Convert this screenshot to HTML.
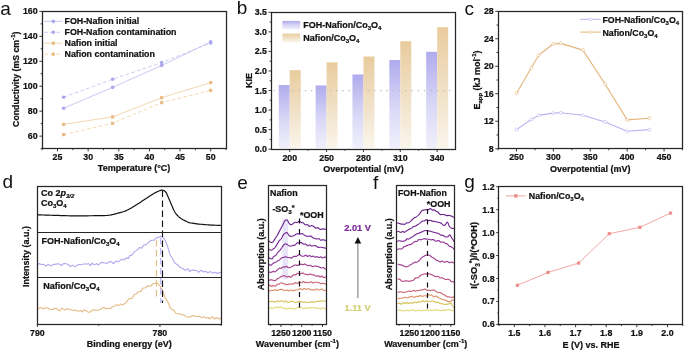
<!DOCTYPE html>
<html><head><meta charset="utf-8"><style>
html,body{margin:0;padding:0;background:#fff;width:685px;height:351px;overflow:hidden}
svg{display:block;will-change:transform}
text{font-family:"Liberation Sans", sans-serif}
text[font-weight=bold]{stroke:currentColor;stroke-width:0.22px}
</style></head><body>
<svg width="685" height="351" viewBox="0 0 685 351">
<rect width="685" height="351" fill="#fff"/>
<rect x="42.50" y="11.50" width="184.00" height="137.00" fill="none" stroke="#262626" stroke-width="1.25"/>
<line x1="40.60" y1="148.60" x2="42.20" y2="148.60" stroke="#262626" stroke-width="0.9" />
<line x1="39.40" y1="136.13" x2="42.20" y2="136.13" stroke="#262626" stroke-width="0.9" />
<text x="37.60" y="139.13" font-size="8.8" text-anchor="end" font-weight="bold" fill="#111" color="#111" >60</text>
<line x1="40.60" y1="123.65" x2="42.20" y2="123.65" stroke="#262626" stroke-width="0.9" />
<line x1="39.40" y1="111.18" x2="42.20" y2="111.18" stroke="#262626" stroke-width="0.9" />
<text x="37.60" y="114.18" font-size="8.8" text-anchor="end" font-weight="bold" fill="#111" color="#111" >80</text>
<line x1="40.60" y1="98.71" x2="42.20" y2="98.71" stroke="#262626" stroke-width="0.9" />
<line x1="39.40" y1="86.24" x2="42.20" y2="86.24" stroke="#262626" stroke-width="0.9" />
<text x="37.60" y="89.24" font-size="8.8" text-anchor="end" font-weight="bold" fill="#111" color="#111" >100</text>
<line x1="40.60" y1="73.76" x2="42.20" y2="73.76" stroke="#262626" stroke-width="0.9" />
<line x1="39.40" y1="61.29" x2="42.20" y2="61.29" stroke="#262626" stroke-width="0.9" />
<text x="37.60" y="64.29" font-size="8.8" text-anchor="end" font-weight="bold" fill="#111" color="#111" >120</text>
<line x1="40.60" y1="48.82" x2="42.20" y2="48.82" stroke="#262626" stroke-width="0.9" />
<line x1="39.40" y1="36.35" x2="42.20" y2="36.35" stroke="#262626" stroke-width="0.9" />
<text x="37.60" y="39.35" font-size="8.8" text-anchor="end" font-weight="bold" fill="#111" color="#111" >140</text>
<line x1="40.60" y1="23.87" x2="42.20" y2="23.87" stroke="#262626" stroke-width="0.9" />
<line x1="39.40" y1="11.40" x2="42.20" y2="11.40" stroke="#262626" stroke-width="0.9" />
<text x="37.60" y="14.40" font-size="8.8" text-anchor="end" font-weight="bold" fill="#111" color="#111" >160</text>
<line x1="42.20" y1="148.60" x2="42.20" y2="150.20" stroke="#262626" stroke-width="0.9" />
<line x1="57.52" y1="148.60" x2="57.52" y2="151.40" stroke="#262626" stroke-width="0.9" />
<text x="57.52" y="160.20" font-size="8.8" text-anchor="middle" font-weight="bold" fill="#111" color="#111" >25</text>
<line x1="72.83" y1="148.60" x2="72.83" y2="150.20" stroke="#262626" stroke-width="0.9" />
<line x1="88.15" y1="148.60" x2="88.15" y2="151.40" stroke="#262626" stroke-width="0.9" />
<text x="88.15" y="160.20" font-size="8.8" text-anchor="middle" font-weight="bold" fill="#111" color="#111" >30</text>
<line x1="103.47" y1="148.60" x2="103.47" y2="150.20" stroke="#262626" stroke-width="0.9" />
<line x1="118.78" y1="148.60" x2="118.78" y2="151.40" stroke="#262626" stroke-width="0.9" />
<text x="118.78" y="160.20" font-size="8.8" text-anchor="middle" font-weight="bold" fill="#111" color="#111" >35</text>
<line x1="134.10" y1="148.60" x2="134.10" y2="150.20" stroke="#262626" stroke-width="0.9" />
<line x1="149.42" y1="148.60" x2="149.42" y2="151.40" stroke="#262626" stroke-width="0.9" />
<text x="149.42" y="160.20" font-size="8.8" text-anchor="middle" font-weight="bold" fill="#111" color="#111" >40</text>
<line x1="164.73" y1="148.60" x2="164.73" y2="150.20" stroke="#262626" stroke-width="0.9" />
<line x1="180.05" y1="148.60" x2="180.05" y2="151.40" stroke="#262626" stroke-width="0.9" />
<text x="180.05" y="160.20" font-size="8.8" text-anchor="middle" font-weight="bold" fill="#111" color="#111" >45</text>
<line x1="195.37" y1="148.60" x2="195.37" y2="150.20" stroke="#262626" stroke-width="0.9" />
<line x1="210.68" y1="148.60" x2="210.68" y2="151.40" stroke="#262626" stroke-width="0.9" />
<text x="210.68" y="160.20" font-size="8.8" text-anchor="middle" font-weight="bold" fill="#111" color="#111" >50</text>
<line x1="226.00" y1="148.60" x2="226.00" y2="150.20" stroke="#262626" stroke-width="0.9" />
<text x="134.10" y="171.00" font-size="9.0" text-anchor="middle" font-weight="bold" fill="#111" color="#111" >Temperature (°C)</text>
<text x="19.00" y="79.20" font-size="8.75" text-anchor="middle" font-weight="bold" fill="#111" color="#111" transform="rotate(-90 19.00 79.20)" >Conductivity (mS cm<tspan dy="-3.6" font-size="6.2">-1</tspan><tspan dy="3.6">)</tspan></text>
<text x="0.30" y="14.90" font-size="19" text-anchor="start" font-weight="normal" fill="#111" color="#111" >a</text>
<polyline points="63.64,108.19 112.66,87.36 161.67,65.41 210.68,41.83" fill="none" stroke="#c3c3f3" stroke-width="0.9" stroke-linejoin="round" />
<polyline points="63.64,97.21 112.66,79.25 161.67,62.54 210.68,43.08" fill="none" stroke="#c3c3f3" stroke-width="0.9" stroke-dasharray="3.5,2.5" stroke-linejoin="round" />
<polyline points="63.64,124.40 112.66,116.92 161.67,97.71 210.68,82.62" fill="none" stroke="#f1d2a8" stroke-width="0.9" stroke-linejoin="round" />
<polyline points="63.64,134.63 112.66,123.28 161.67,102.58 210.68,90.35" fill="none" stroke="#f1d2a8" stroke-width="0.9" stroke-dasharray="3.5,2.5" stroke-linejoin="round" />
<circle cx="63.64" cy="108.19" r="1.8" fill="#aba8ee"/>
<circle cx="112.66" cy="87.36" r="1.8" fill="#aba8ee"/>
<circle cx="161.67" cy="65.41" r="1.8" fill="#aba8ee"/>
<circle cx="210.68" cy="41.83" r="1.8" fill="#aba8ee"/>
<circle cx="63.64" cy="97.21" r="1.8" fill="#aba8ee"/>
<circle cx="112.66" cy="79.25" r="1.8" fill="#aba8ee"/>
<circle cx="161.67" cy="62.54" r="1.8" fill="#aba8ee"/>
<circle cx="210.68" cy="43.08" r="1.8" fill="#aba8ee"/>
<rect x="62.04" y="122.80" width="3.2" height="3.2" fill="#e8bb84"/>
<rect x="111.06" y="115.32" width="3.2" height="3.2" fill="#e8bb84"/>
<rect x="160.07" y="96.11" width="3.2" height="3.2" fill="#e8bb84"/>
<rect x="209.08" y="81.02" width="3.2" height="3.2" fill="#e8bb84"/>
<rect x="62.04" y="133.03" width="3.2" height="3.2" fill="#e8bb84"/>
<rect x="111.06" y="121.68" width="3.2" height="3.2" fill="#e8bb84"/>
<rect x="160.07" y="100.98" width="3.2" height="3.2" fill="#e8bb84"/>
<rect x="209.08" y="88.75" width="3.2" height="3.2" fill="#e8bb84"/>
<line x1="44.3" y1="21.4" x2="62.5" y2="21.4" stroke="#c3c3f3" stroke-width="0.9"/>
<circle cx="53.3" cy="21.4" r="1.8" fill="#aba8ee"/>
<text x="64.50" y="24.20" font-size="8.85" text-anchor="start" font-weight="bold" fill="#111" color="#111" >FOH-Nafion initial</text>
<line x1="44.3" y1="32.3" x2="62.5" y2="32.3" stroke="#c3c3f3" stroke-width="0.9" stroke-dasharray="3.5,2.5"/>
<circle cx="53.3" cy="32.3" r="1.8" fill="#aba8ee"/>
<text x="64.50" y="35.10" font-size="8.85" text-anchor="start" font-weight="bold" fill="#111" color="#111" >FOH-Nafion contamination</text>
<line x1="44.3" y1="43.2" x2="62.5" y2="43.2" stroke="#f1d2a8" stroke-width="0.9"/>
<rect x="51.7" y="41.6" width="3.2" height="3.2" fill="#e8bb84"/>
<text x="64.50" y="46.00" font-size="8.85" text-anchor="start" font-weight="bold" fill="#111" color="#111" >Nafion initial</text>
<line x1="44.3" y1="54.2" x2="62.5" y2="54.2" stroke="#f1d2a8" stroke-width="0.9" stroke-dasharray="3.5,2.5"/>
<rect x="51.7" y="52.6" width="3.2" height="3.2" fill="#e8bb84"/>
<text x="64.50" y="57.00" font-size="8.85" text-anchor="start" font-weight="bold" fill="#111" color="#111" >Nafion contamination</text>
<defs><linearGradient id="gF" x1="0" y1="0" x2="0" y2="1"><stop offset="0" stop-color="#b0abee"/><stop offset="0.55" stop-color="#dad8f6"/><stop offset="1" stop-color="#f0f0fb"/></linearGradient><linearGradient id="gN" x1="0" y1="0" x2="0" y2="1"><stop offset="0" stop-color="#e9cc9e"/><stop offset="0.55" stop-color="#f1e2c9"/><stop offset="1" stop-color="#faf5ec"/></linearGradient></defs>
<rect x="278.73" y="85.05" width="11" height="63.15" fill="url(#gF)"/>
<rect x="289.73" y="70.19" width="11" height="78.01" fill="url(#gN)"/>
<rect x="315.59" y="85.44" width="11" height="62.76" fill="url(#gF)"/>
<rect x="326.59" y="62.37" width="11" height="85.83" fill="url(#gN)"/>
<rect x="352.45" y="74.49" width="11" height="73.71" fill="url(#gF)"/>
<rect x="363.45" y="56.50" width="11" height="91.70" fill="url(#gN)"/>
<rect x="389.31" y="60.02" width="11" height="88.18" fill="url(#gF)"/>
<rect x="400.31" y="41.24" width="11" height="106.96" fill="url(#gN)"/>
<rect x="426.17" y="51.81" width="11" height="96.39" fill="url(#gF)"/>
<rect x="437.17" y="27.16" width="11" height="121.04" fill="url(#gN)"/>
<line x1="273.5" y1="90.53" x2="455.6" y2="90.53" stroke="#bcbcbc" stroke-width="1.3" stroke-dasharray="1.3,4.97"/>
<rect x="271.50" y="12.50" width="184.00" height="137.00" fill="none" stroke="#262626" stroke-width="1.25"/>
<line x1="268.50" y1="149.20" x2="271.30" y2="149.20" stroke="#262626" stroke-width="0.9" />
<text x="266.90" y="152.20" font-size="8.8" text-anchor="end" font-weight="bold" fill="#111" color="#111" >0.0</text>
<line x1="269.70" y1="139.42" x2="271.30" y2="139.42" stroke="#262626" stroke-width="0.9" />
<line x1="268.50" y1="129.64" x2="271.30" y2="129.64" stroke="#262626" stroke-width="0.9" />
<text x="266.90" y="132.64" font-size="8.8" text-anchor="end" font-weight="bold" fill="#111" color="#111" >0.5</text>
<line x1="269.70" y1="119.86" x2="271.30" y2="119.86" stroke="#262626" stroke-width="0.9" />
<line x1="268.50" y1="110.09" x2="271.30" y2="110.09" stroke="#262626" stroke-width="0.9" />
<text x="266.90" y="113.09" font-size="8.8" text-anchor="end" font-weight="bold" fill="#111" color="#111" >1.0</text>
<line x1="269.70" y1="100.31" x2="271.30" y2="100.31" stroke="#262626" stroke-width="0.9" />
<line x1="268.50" y1="90.53" x2="271.30" y2="90.53" stroke="#262626" stroke-width="0.9" />
<text x="266.90" y="93.53" font-size="8.8" text-anchor="end" font-weight="bold" fill="#111" color="#111" >1.5</text>
<line x1="269.70" y1="80.75" x2="271.30" y2="80.75" stroke="#262626" stroke-width="0.9" />
<line x1="268.50" y1="70.97" x2="271.30" y2="70.97" stroke="#262626" stroke-width="0.9" />
<text x="266.90" y="73.97" font-size="8.8" text-anchor="end" font-weight="bold" fill="#111" color="#111" >2.0</text>
<line x1="269.70" y1="61.19" x2="271.30" y2="61.19" stroke="#262626" stroke-width="0.9" />
<line x1="268.50" y1="51.41" x2="271.30" y2="51.41" stroke="#262626" stroke-width="0.9" />
<text x="266.90" y="54.41" font-size="8.8" text-anchor="end" font-weight="bold" fill="#111" color="#111" >2.5</text>
<line x1="269.70" y1="41.64" x2="271.30" y2="41.64" stroke="#262626" stroke-width="0.9" />
<line x1="268.50" y1="31.86" x2="271.30" y2="31.86" stroke="#262626" stroke-width="0.9" />
<text x="266.90" y="34.86" font-size="8.8" text-anchor="end" font-weight="bold" fill="#111" color="#111" >3.0</text>
<line x1="269.70" y1="22.08" x2="271.30" y2="22.08" stroke="#262626" stroke-width="0.9" />
<line x1="268.50" y1="12.30" x2="271.30" y2="12.30" stroke="#262626" stroke-width="0.9" />
<text x="266.90" y="15.30" font-size="8.8" text-anchor="end" font-weight="bold" fill="#111" color="#111" >3.5</text>
<line x1="289.73" y1="149.20" x2="289.73" y2="152.00" stroke="#262626" stroke-width="0.9" />
<text x="289.73" y="161.30" font-size="8.8" text-anchor="middle" font-weight="bold" fill="#111" color="#111" >200</text>
<line x1="308.16" y1="149.20" x2="308.16" y2="150.80" stroke="#262626" stroke-width="0.9" />
<line x1="326.59" y1="149.20" x2="326.59" y2="152.00" stroke="#262626" stroke-width="0.9" />
<text x="326.59" y="161.30" font-size="8.8" text-anchor="middle" font-weight="bold" fill="#111" color="#111" >250</text>
<line x1="345.02" y1="149.20" x2="345.02" y2="150.80" stroke="#262626" stroke-width="0.9" />
<line x1="363.45" y1="149.20" x2="363.45" y2="152.00" stroke="#262626" stroke-width="0.9" />
<text x="363.45" y="161.30" font-size="8.8" text-anchor="middle" font-weight="bold" fill="#111" color="#111" >280</text>
<line x1="381.88" y1="149.20" x2="381.88" y2="150.80" stroke="#262626" stroke-width="0.9" />
<line x1="400.31" y1="149.20" x2="400.31" y2="152.00" stroke="#262626" stroke-width="0.9" />
<text x="400.31" y="161.30" font-size="8.8" text-anchor="middle" font-weight="bold" fill="#111" color="#111" >310</text>
<line x1="418.74" y1="149.20" x2="418.74" y2="150.80" stroke="#262626" stroke-width="0.9" />
<line x1="437.17" y1="149.20" x2="437.17" y2="152.00" stroke="#262626" stroke-width="0.9" />
<text x="437.17" y="161.30" font-size="8.8" text-anchor="middle" font-weight="bold" fill="#111" color="#111" >340</text>
<text x="363.45" y="172.00" font-size="9.0" text-anchor="middle" font-weight="bold" fill="#111" color="#111" >Overpotential (mV)</text>
<text x="252.20" y="80.50" font-size="9.0" text-anchor="middle" font-weight="bold" fill="#111" color="#111" transform="rotate(-90 252.20 80.50)" >KIE</text>
<text x="236.70" y="14.30" font-size="19" text-anchor="start" font-weight="normal" fill="#111" color="#111" >b</text>
<rect x="282.4" y="20.9" width="17.8" height="8.4" fill="url(#gF)"/>
<rect x="282.4" y="33.6" width="17.8" height="8.6" fill="url(#gN)"/>
<text x="303.20" y="28.20" font-size="9.0" text-anchor="start" font-weight="bold" fill="#111" color="#111" >FOH-Nafion/Co<tspan dy="2.2" font-size="6">3</tspan><tspan dy="-2.2">O</tspan><tspan dy="2.2" font-size="6">4</tspan></text>
<text x="303.20" y="40.80" font-size="9.0" text-anchor="start" font-weight="bold" fill="#111" color="#111" >Nafion/Co<tspan dy="2.2" font-size="6">3</tspan><tspan dy="-2.2">O</tspan><tspan dy="2.2" font-size="6">4</tspan></text>
<rect x="498.50" y="11.50" width="184.00" height="137.00" fill="none" stroke="#262626" stroke-width="1.25"/>
<line x1="495.25" y1="148.70" x2="498.05" y2="148.70" stroke="#262626" stroke-width="0.9" />
<text x="493.75" y="151.70" font-size="8.8" text-anchor="end" font-weight="bold" fill="#111" color="#111" >8</text>
<line x1="496.45" y1="134.96" x2="498.05" y2="134.96" stroke="#262626" stroke-width="0.9" />
<line x1="495.25" y1="121.22" x2="498.05" y2="121.22" stroke="#262626" stroke-width="0.9" />
<text x="493.75" y="124.22" font-size="8.8" text-anchor="end" font-weight="bold" fill="#111" color="#111" >12</text>
<line x1="496.45" y1="107.48" x2="498.05" y2="107.48" stroke="#262626" stroke-width="0.9" />
<line x1="495.25" y1="93.74" x2="498.05" y2="93.74" stroke="#262626" stroke-width="0.9" />
<text x="493.75" y="96.74" font-size="8.8" text-anchor="end" font-weight="bold" fill="#111" color="#111" >16</text>
<line x1="496.45" y1="80.00" x2="498.05" y2="80.00" stroke="#262626" stroke-width="0.9" />
<line x1="495.25" y1="66.26" x2="498.05" y2="66.26" stroke="#262626" stroke-width="0.9" />
<text x="493.75" y="69.26" font-size="8.8" text-anchor="end" font-weight="bold" fill="#111" color="#111" >20</text>
<line x1="496.45" y1="52.52" x2="498.05" y2="52.52" stroke="#262626" stroke-width="0.9" />
<line x1="495.25" y1="38.78" x2="498.05" y2="38.78" stroke="#262626" stroke-width="0.9" />
<text x="493.75" y="41.78" font-size="8.8" text-anchor="end" font-weight="bold" fill="#111" color="#111" >24</text>
<line x1="496.45" y1="25.04" x2="498.05" y2="25.04" stroke="#262626" stroke-width="0.9" />
<line x1="495.25" y1="11.30" x2="498.05" y2="11.30" stroke="#262626" stroke-width="0.9" />
<text x="493.75" y="14.30" font-size="8.8" text-anchor="end" font-weight="bold" fill="#111" color="#111" >28</text>
<line x1="498.05" y1="148.70" x2="498.05" y2="150.30" stroke="#262626" stroke-width="0.9" />
<line x1="516.50" y1="148.70" x2="516.50" y2="151.50" stroke="#262626" stroke-width="0.9" />
<text x="516.50" y="160.00" font-size="8.8" text-anchor="middle" font-weight="bold" fill="#111" color="#111" >250</text>
<line x1="534.94" y1="148.70" x2="534.94" y2="150.30" stroke="#262626" stroke-width="0.9" />
<line x1="553.38" y1="148.70" x2="553.38" y2="151.50" stroke="#262626" stroke-width="0.9" />
<text x="553.38" y="160.00" font-size="8.8" text-anchor="middle" font-weight="bold" fill="#111" color="#111" >300</text>
<line x1="571.83" y1="148.70" x2="571.83" y2="150.30" stroke="#262626" stroke-width="0.9" />
<line x1="590.27" y1="148.70" x2="590.27" y2="151.50" stroke="#262626" stroke-width="0.9" />
<text x="590.27" y="160.00" font-size="8.8" text-anchor="middle" font-weight="bold" fill="#111" color="#111" >350</text>
<line x1="608.72" y1="148.70" x2="608.72" y2="150.30" stroke="#262626" stroke-width="0.9" />
<line x1="627.16" y1="148.70" x2="627.16" y2="151.50" stroke="#262626" stroke-width="0.9" />
<text x="627.16" y="160.00" font-size="8.8" text-anchor="middle" font-weight="bold" fill="#111" color="#111" >400</text>
<line x1="645.61" y1="148.70" x2="645.61" y2="150.30" stroke="#262626" stroke-width="0.9" />
<line x1="664.06" y1="148.70" x2="664.06" y2="151.50" stroke="#262626" stroke-width="0.9" />
<text x="664.06" y="160.00" font-size="8.8" text-anchor="middle" font-weight="bold" fill="#111" color="#111" >450</text>
<line x1="682.50" y1="148.70" x2="682.50" y2="150.30" stroke="#262626" stroke-width="0.9" />
<text x="590.27" y="172.30" font-size="9.0" text-anchor="middle" font-weight="bold" fill="#111" color="#111" >Overpotential (mV)</text>
<text x="479.60" y="80.00" font-size="9.0" text-anchor="middle" font-weight="bold" fill="#111" color="#111" transform="rotate(-90 479.60 80.00)" >E<tspan dy="2.2" font-size="6">app</tspan><tspan dy="-2.2"> (kJ mol</tspan><tspan dy="-3.6" font-size="6.2">-1</tspan><tspan dy="3.6">)</tspan></text>
<text x="464.50" y="14.60" font-size="19" text-anchor="start" font-weight="normal" fill="#111" color="#111" >c</text>
<polyline points="516.50,129.60 531.25,119.50 538.63,115.38 553.38,113.11 560.76,112.77 582.90,115.31 605.03,121.91 627.16,131.32 649.30,129.60" fill="none" stroke="#b5b3f0" stroke-width="1.1" stroke-linejoin="round" />
<polyline points="516.50,93.19 531.25,67.91 538.63,55.27 553.38,43.80 560.76,43.38 582.90,50.12 605.03,83.98 627.16,119.91 649.30,118.20" fill="none" stroke="#e5b57a" stroke-width="1.1" stroke-linejoin="round" />
<circle cx="516.50" cy="129.60" r="1.5" fill="#fff" stroke="#b5b3f0" stroke-width="0.6"/>
<circle cx="531.25" cy="119.50" r="1.5" fill="#fff" stroke="#b5b3f0" stroke-width="0.6"/>
<circle cx="538.63" cy="115.38" r="1.5" fill="#fff" stroke="#b5b3f0" stroke-width="0.6"/>
<circle cx="553.38" cy="113.11" r="1.5" fill="#fff" stroke="#b5b3f0" stroke-width="0.6"/>
<circle cx="560.76" cy="112.77" r="1.5" fill="#fff" stroke="#b5b3f0" stroke-width="0.6"/>
<circle cx="582.90" cy="115.31" r="1.5" fill="#fff" stroke="#b5b3f0" stroke-width="0.6"/>
<circle cx="605.03" cy="121.91" r="1.5" fill="#fff" stroke="#b5b3f0" stroke-width="0.6"/>
<circle cx="627.16" cy="131.32" r="1.5" fill="#fff" stroke="#b5b3f0" stroke-width="0.6"/>
<circle cx="649.30" cy="129.60" r="1.5" fill="#fff" stroke="#b5b3f0" stroke-width="0.6"/>
<circle cx="516.50" cy="93.19" r="1.5" fill="#fff" stroke="#e5b57a" stroke-width="0.6"/>
<circle cx="531.25" cy="67.91" r="1.5" fill="#fff" stroke="#e5b57a" stroke-width="0.6"/>
<circle cx="538.63" cy="55.27" r="1.5" fill="#fff" stroke="#e5b57a" stroke-width="0.6"/>
<circle cx="553.38" cy="43.80" r="1.5" fill="#fff" stroke="#e5b57a" stroke-width="0.6"/>
<circle cx="560.76" cy="43.38" r="1.5" fill="#fff" stroke="#e5b57a" stroke-width="0.6"/>
<circle cx="582.90" cy="50.12" r="1.5" fill="#fff" stroke="#e5b57a" stroke-width="0.6"/>
<circle cx="605.03" cy="83.98" r="1.5" fill="#fff" stroke="#e5b57a" stroke-width="0.6"/>
<circle cx="627.16" cy="119.91" r="1.5" fill="#fff" stroke="#e5b57a" stroke-width="0.6"/>
<circle cx="649.30" cy="118.20" r="1.5" fill="#fff" stroke="#e5b57a" stroke-width="0.6"/>
<line x1="580.30" y1="19.30" x2="600.80" y2="19.30" stroke="#b5b3f0" stroke-width="1.0" />
<circle cx="590.5" cy="19.3" r="1.5" fill="#fff" stroke="#b5b3f0" stroke-width="0.6"/>
<text x="602.50" y="23.00" font-size="8.8" text-anchor="start" font-weight="bold" fill="#111" color="#111" >FOH-Nafion/Co<tspan dy="2.2" font-size="6">3</tspan><tspan dy="-2.2">O</tspan><tspan dy="2.2" font-size="6">4</tspan></text>
<line x1="580.30" y1="32.10" x2="600.80" y2="32.10" stroke="#e5b57a" stroke-width="1.0" />
<circle cx="590.5" cy="32.1" r="1.5" fill="#fff" stroke="#e5b57a" stroke-width="0.6"/>
<text x="602.50" y="35.80" font-size="8.8" text-anchor="start" font-weight="bold" fill="#111" color="#111" >Nafion/Co<tspan dy="2.2" font-size="6">3</tspan><tspan dy="-2.2">O</tspan><tspan dy="2.2" font-size="6">4</tspan></text>
<polyline points="37.60,214.80 39.02,214.85 40.89,214.91 43.13,214.99 45.61,215.07 48.25,215.16 50.93,215.24 53.55,215.33 56.00,215.40 58.35,215.47 60.71,215.55 63.08,215.63 65.46,215.70 67.85,215.77 70.24,215.83 72.62,215.87 75.00,215.90 77.41,215.91 79.89,215.90 82.38,215.88 84.86,215.85 87.30,215.81 89.66,215.77 91.90,215.73 94.00,215.70 95.95,215.68 97.79,215.67 99.54,215.67 101.19,215.66 102.78,215.63 104.30,215.59 105.77,215.51 107.20,215.40 108.56,215.25 109.84,215.06 111.03,214.85 112.18,214.61 113.30,214.36 114.41,214.08 115.54,213.80 116.70,213.50 117.89,213.20 119.08,212.90 120.26,212.59 121.45,212.26 122.64,211.91 123.83,211.52 125.01,211.08 126.20,210.60 127.39,210.06 128.57,209.46 129.76,208.83 130.95,208.16 132.14,207.46 133.32,206.74 134.51,206.02 135.70,205.30 136.90,204.56 138.12,203.78 139.35,202.98 140.57,202.18 141.78,201.37 142.97,200.58 144.11,199.82 145.20,199.10 146.25,198.41 147.26,197.74 148.24,197.08 149.19,196.45 150.11,195.84 151.00,195.26 151.86,194.71 152.70,194.20 153.51,193.72 154.29,193.27 155.04,192.85 155.77,192.46 156.47,192.10 157.14,191.76 157.78,191.47 158.40,191.20 158.99,190.96 159.54,190.74 160.06,190.56 160.55,190.40 161.03,190.28 161.49,190.21 161.95,190.18 162.40,190.20 162.85,190.26 163.28,190.34 163.70,190.46 164.11,190.63 164.51,190.86 164.91,191.15 165.30,191.53 165.70,192.00 166.10,192.58 166.49,193.27 166.87,194.05 167.26,194.89 167.64,195.78 168.02,196.69 168.41,197.61 168.80,198.50 169.20,199.40 169.60,200.33 170.00,201.29 170.41,202.26 170.81,203.23 171.21,204.19 171.61,205.11 172.00,206.00 172.37,206.85 172.72,207.68 173.05,208.49 173.39,209.28 173.74,210.05 174.11,210.81 174.53,211.56 175.00,212.30 175.52,213.04 176.09,213.78 176.68,214.51 177.31,215.23 177.96,215.93 178.63,216.59 179.31,217.22 180.00,217.80 180.71,218.34 181.45,218.84 182.22,219.30 183.00,219.73 183.78,220.13 184.55,220.51 185.29,220.87 186.00,221.20 186.62,221.50 187.12,221.77 187.58,222.00 188.04,222.21 188.55,222.41 189.18,222.60 189.98,222.80 191.00,223.00 192.25,223.21 193.68,223.43 195.27,223.65 196.98,223.86 198.77,224.06 200.63,224.25 202.51,224.43 204.40,224.60 206.44,224.75 208.71,224.90 211.12,225.03 213.54,225.15 215.85,225.26 217.94,225.35 219.70,225.44 221.00,225.50" fill="none" stroke="#111" stroke-width="1.2" stroke-linejoin="round" />
<polyline points="37.60,264.83 39.72,263.52 41.42,264.85 43.39,264.18 45.65,266.01 48.14,264.52 50.95,265.83 53.48,264.54 55.91,264.10 58.71,263.74 61.54,265.53 63.69,263.49 66.59,263.76 68.39,264.74 70.60,266.51 72.91,265.15 75.33,266.88 77.88,264.67 80.86,264.69 83.66,264.02 86.05,263.95 88.81,263.74 90.51,265.65 92.24,263.18 94.06,264.79 96.87,263.73 98.54,264.97 101.37,262.34 104.36,262.79 106.80,263.46 108.97,261.99 110.64,261.51 113.57,263.54 115.81,261.00 118.25,261.94 121.15,259.30 123.76,260.02 126.72,257.74 128.34,258.38 129.98,255.31 131.67,255.52 134.22,251.88 136.85,250.37 139.39,247.58 141.63,248.17 143.75,245.09 146.18,244.60 148.85,242.06 151.48,240.31 154.20,240.15 156.41,237.70 158.46,237.39 160.68,236.37 162.75,237.20 164.98,240.04 167.33,245.56 170.09,254.99 172.82,259.04 174.90,263.19 177.61,264.72 179.79,267.35 182.67,268.44 185.59,270.42 187.80,268.60 189.71,271.41 192.24,269.90 194.32,270.41 196.74,270.50 198.41,272.44 201.30,270.19 203.70,271.93 205.55,271.21 207.88,272.73 210.34,271.60 213.14,273.28 215.23,272.20 217.97,273.38 220.85,272.05 221.00,273.20" fill="none" stroke="#aeaaef" stroke-width="1.1" stroke-linejoin="round" />
<polyline points="37.60,309.41 40.31,307.35 43.19,308.96 46.10,307.83 47.87,308.07 50.23,309.75 52.14,309.51 54.80,308.64 56.61,308.24 58.22,310.38 60.13,310.59 62.13,308.17 64.68,310.08 67.24,308.55 69.27,309.34 71.08,309.80 73.52,310.60 75.60,309.92 77.87,311.26 80.45,310.51 82.09,311.96 83.73,309.90 86.14,310.73 88.00,312.18 90.65,311.89 92.73,309.71 95.41,310.13 98.12,310.29 101.04,309.02 103.49,307.19 106.38,308.97 108.43,308.35 110.24,308.57 112.07,306.89 114.42,305.91 116.85,304.74 119.04,305.52 120.70,303.88 122.49,304.94 124.97,303.58 127.18,301.22 129.19,298.43 131.98,298.43 134.26,294.77 136.27,293.91 138.40,291.82 140.88,291.40 142.61,288.21 145.42,287.79 148.10,285.77 150.76,286.31 152.76,283.69 155.32,283.30 157.83,283.26 160.19,286.32 162.44,289.91 165.15,298.00 167.78,301.79 170.55,308.73 173.51,309.82 175.85,313.31 178.75,313.71 181.36,314.40 184.04,314.92 186.23,316.80 188.72,317.12 190.55,317.01 192.47,315.49 194.13,315.87 195.82,316.37 197.68,316.47 199.93,316.47 202.35,317.87 203.97,316.83 206.14,318.08 208.27,317.54 210.01,318.74 212.42,316.70 214.61,319.07 216.73,317.54 219.12,319.17 221.00,317.90" fill="none" stroke="#e6bb84" stroke-width="1.1" stroke-linejoin="round" />
<line x1="156.50" y1="240.00" x2="156.50" y2="300.00" stroke="#e6bb84" stroke-width="1.1" stroke-dasharray="6.5,3.5"/>
<line x1="160.80" y1="238.00" x2="160.80" y2="303.00" stroke="#aeaaef" stroke-width="1.1" stroke-dasharray="6.5,3.5"/>
<line x1="162.50" y1="190.50" x2="162.50" y2="303.00" stroke="#111" stroke-width="1.15" stroke-dasharray="6.5,3.5"/>
<line x1="37.40" y1="232.50" x2="221.20" y2="232.50" stroke="#262626" stroke-width="1.0" />
<line x1="37.40" y1="277.50" x2="221.20" y2="277.50" stroke="#262626" stroke-width="1.0" />
<rect x="37.50" y="186.50" width="184.00" height="138.00" fill="none" stroke="#262626" stroke-width="1.25"/>
<line x1="37.40" y1="324.20" x2="37.40" y2="327.00" stroke="#262626" stroke-width="0.9" />
<text x="37.40" y="335.80" font-size="8.8" text-anchor="middle" font-weight="bold" fill="#111" color="#111" >790</text>
<line x1="98.67" y1="324.20" x2="98.67" y2="325.80" stroke="#262626" stroke-width="0.9" />
<line x1="159.93" y1="324.20" x2="159.93" y2="327.00" stroke="#262626" stroke-width="0.9" />
<text x="159.93" y="335.80" font-size="8.8" text-anchor="middle" font-weight="bold" fill="#111" color="#111" >780</text>
<line x1="221.20" y1="324.20" x2="221.20" y2="325.80" stroke="#262626" stroke-width="0.9" />
<text x="129.30" y="347.00" font-size="9.0" text-anchor="middle" font-weight="bold" fill="#111" color="#111" >Binding energy (eV)</text>
<text x="29.00" y="256.40" font-size="9.0" text-anchor="middle" font-weight="bold" fill="#111" color="#111" transform="rotate(-90 29.00 256.40)" >Intensity (a.u.)</text>
<text x="2.60" y="187.50" font-size="19" text-anchor="start" font-weight="normal" fill="#111" color="#111" >d</text>
<text x="41.00" y="196.10" font-size="9.0" text-anchor="start" font-weight="bold" fill="#111" color="#111" >Co 2<tspan font-style="italic">p</tspan><tspan dy="2.2" font-size="6" font-style="italic">3/2</tspan></text>
<text x="41.00" y="205.50" font-size="9.0" text-anchor="start" font-weight="bold" fill="#111" color="#111" >Co<tspan dy="2.2" font-size="6">3</tspan><tspan dy="-2.2">O</tspan><tspan dy="2.2" font-size="6">4</tspan></text>
<text x="41.50" y="243.70" font-size="9.0" text-anchor="start" font-weight="bold" fill="#111" color="#111" >FOH-Nafion/Co<tspan dy="2.2" font-size="6">3</tspan><tspan dy="-2.2">O</tspan><tspan dy="2.2" font-size="6">4</tspan></text>
<text x="43.30" y="289.20" font-size="9.0" text-anchor="start" font-weight="bold" fill="#111" color="#111" >Nafion/Co<tspan dy="2.2" font-size="6">3</tspan><tspan dy="-2.2">O</tspan><tspan dy="2.2" font-size="6">4</tspan></text>
<rect x="282.4" y="218.4" width="5.5" height="61" fill="#e7e5f8"/>
<polyline points="268.70,240.82 269.13,241.16 269.74,241.66 270.42,242.15 271.02,242.45 271.54,242.52 272.04,242.47 272.50,242.28 272.95,241.99 273.33,241.57 273.66,241.02 274.01,240.37 274.44,239.63 275.02,238.75 275.68,237.74 276.36,236.71 276.96,235.76 277.46,234.92 277.90,234.14 278.32,233.38 278.73,232.61 279.13,231.85 279.52,231.11 279.91,230.34 280.35,229.49 280.84,228.56 281.36,227.57 281.92,226.53 282.50,225.44 283.11,224.19 283.76,222.81 284.41,221.54 285.05,220.63 285.67,220.16 286.30,219.98 286.89,220.05 287.43,220.30 287.85,220.83 288.20,221.63 288.55,222.49 288.98,223.20 289.50,223.76 290.09,224.28 290.70,224.64 291.30,224.77 291.91,224.52 292.53,223.98 293.14,223.38 293.71,222.92 294.24,222.64 294.74,222.43 295.20,222.29 295.65,222.21 296.05,222.26 296.42,222.42 296.78,222.56 297.20,222.55 297.70,222.26 298.24,221.79 298.80,221.36 299.33,221.16 299.84,221.33 300.34,221.72 300.84,222.17 301.34,222.51 301.85,222.65 302.37,222.69 302.88,222.76 303.38,222.94 303.84,223.35 304.27,223.90 304.72,224.43 305.21,224.79 305.78,224.87 306.41,224.77 307.03,224.66 307.59,224.71 308.05,225.06 308.45,225.58 308.84,226.09 309.29,226.38 309.82,226.33 310.40,226.08 310.99,225.80 311.55,225.66 312.06,225.71 312.55,225.84 313.03,226.05 313.54,226.33 314.08,226.75 314.63,227.29 315.19,227.80 315.75,228.11 316.34,228.11 316.95,227.90 317.54,227.68 318.06,227.64 318.47,227.88 318.82,228.28 319.15,228.71 319.52,229.02 319.93,229.20 320.35,229.32 320.80,229.38 321.29,229.38 321.85,229.28 322.46,229.08 323.06,228.89 323.59,228.80 324.01,228.84 324.38,228.96 324.70,229.12 325.00,229.25 325.31,229.35 325.59,229.45 325.83,229.54 326.00,229.60" fill="none" stroke="#6a248e" stroke-width="1.15" stroke-linejoin="round" />
<polyline points="268.70,249.23 269.17,249.48 269.84,249.84 270.58,250.16 271.26,250.26 271.84,250.06 272.41,249.65 272.95,249.16 273.45,248.73 273.90,248.43 274.30,248.19 274.72,247.87 275.20,247.32 275.81,246.43 276.50,245.30 277.18,244.13 277.77,243.14 278.21,242.40 278.56,241.78 278.89,241.23 279.27,240.70 279.73,240.22 280.23,239.80 280.74,239.34 281.24,238.75 281.72,237.92 282.19,236.92 282.66,235.94 283.12,235.13 283.56,234.54 283.99,234.08 284.42,233.72 284.89,233.40 285.42,233.07 285.99,232.77 286.56,232.61 287.10,232.71 287.60,233.21 288.06,234.01 288.52,234.85 288.98,235.50 289.45,235.89 289.92,236.15 290.39,236.32 290.86,236.40 291.36,236.38 291.87,236.25 292.37,236.08 292.82,235.93 293.20,235.85 293.53,235.79 293.86,235.70 294.25,235.52 294.73,235.18 295.27,234.72 295.82,234.28 296.32,233.97 296.75,233.84 297.12,233.81 297.51,233.85 297.94,233.88 298.46,233.93 299.02,234.01 299.60,234.08 300.16,234.09 300.71,233.97 301.24,233.77 301.78,233.62 302.35,233.64 302.94,233.93 303.57,234.39 304.19,234.90 304.80,235.31 305.39,235.62 305.97,235.89 306.53,236.11 307.03,236.26 307.43,236.33 307.76,236.33 308.10,236.30 308.53,236.26 309.11,236.19 309.79,236.07 310.47,236.00 311.06,236.07 311.50,236.36 311.84,236.80 312.18,237.27 312.61,237.65 313.16,237.91 313.79,238.11 314.42,238.28 314.98,238.44 315.41,238.61 315.78,238.76 316.14,238.89 316.59,238.96 317.17,238.92 317.83,238.79 318.49,238.70 319.06,238.74 319.51,239.04 319.89,239.50 320.24,239.95 320.63,240.22 321.05,240.23 321.49,240.09 321.95,239.90 322.43,239.81 322.98,239.83 323.58,239.92 324.16,240.03 324.66,240.16 325.09,240.31 325.47,240.50 325.78,240.68 326.00,240.80" fill="none" stroke="#742893" stroke-width="1.15" stroke-linejoin="round" />
<polyline points="268.70,257.92 268.98,257.99 269.39,258.08 269.85,258.18 270.30,258.30 270.76,258.49 271.24,258.74 271.72,258.91 272.16,258.85 272.54,258.46 272.88,257.83 273.22,257.14 273.62,256.59 274.09,256.25 274.60,256.01 275.13,255.77 275.64,255.41 276.10,254.86 276.54,254.21 277.00,253.52 277.49,252.85 278.06,252.22 278.67,251.59 279.29,250.97 279.87,250.33 280.38,249.69 280.85,249.04 281.32,248.39 281.80,247.72 282.29,246.97 282.80,246.18 283.31,245.44 283.83,244.85 284.38,244.43 284.94,244.13 285.49,243.95 285.99,243.89 286.40,243.98 286.75,244.22 287.10,244.53 287.50,244.82 287.97,245.12 288.48,245.44 289.00,245.74 289.51,245.95 289.99,246.05 290.47,246.08 290.94,246.05 291.39,246.00 291.81,245.89 292.21,245.73 292.61,245.56 293.04,245.43 293.49,245.40 293.96,245.42 294.45,245.39 294.96,245.19 295.49,244.69 296.04,243.98 296.60,243.28 297.16,242.82 297.71,242.73 298.26,242.86 298.80,243.04 299.33,243.10 299.82,242.93 300.29,242.64 300.76,242.40 301.26,242.38 301.80,242.69 302.36,243.24 302.93,243.80 303.48,244.18 304.02,244.23 304.55,244.09 305.08,243.96 305.60,244.01 306.12,244.39 306.64,244.97 307.15,245.52 307.64,245.81 308.13,245.71 308.61,245.34 309.07,244.96 309.52,244.79 309.92,244.94 310.29,245.29 310.67,245.66 311.13,245.89 311.69,245.94 312.32,245.88 312.97,245.79 313.59,245.73 314.17,245.69 314.73,245.64 315.28,245.64 315.81,245.76 316.31,246.06 316.80,246.50 317.27,246.94 317.75,247.24 318.23,247.36 318.71,247.36 319.19,247.32 319.64,247.29 320.08,247.27 320.50,247.24 320.91,247.22 321.32,247.23 321.71,247.29 322.10,247.38 322.48,247.49 322.90,247.59 323.37,247.67 323.87,247.76 324.37,247.86 324.80,247.97 325.18,248.12 325.52,248.31 325.80,248.48 326.00,248.60" fill="none" stroke="#7e2c96" stroke-width="1.15" stroke-linejoin="round" />
<polyline points="268.70,264.19 269.12,264.45 269.74,264.83 270.40,265.17 270.96,265.30 271.38,265.13 271.73,264.76 272.08,264.32 272.46,263.92 272.90,263.58 273.38,263.23 273.86,262.92 274.31,262.64 274.70,262.46 275.05,262.34 275.42,262.21 275.86,262.01 276.42,261.71 277.06,261.34 277.69,260.96 278.25,260.62 278.69,260.37 279.06,260.16 279.41,259.94 279.78,259.66 280.16,259.27 280.54,258.82 280.95,258.37 281.40,258.01 281.93,257.77 282.50,257.59 283.10,257.45 283.67,257.32 284.21,257.18 284.74,257.04 285.25,256.93 285.75,256.90 286.23,256.97 286.67,257.12 287.12,257.29 287.60,257.41 288.12,257.46 288.68,257.47 289.23,257.48 289.74,257.53 290.19,257.70 290.59,257.94 291.00,258.12 291.48,258.11 292.05,257.79 292.68,257.25 293.32,256.69 293.94,256.32 294.53,256.23 295.12,256.31 295.68,256.41 296.19,256.38 296.63,256.17 297.02,255.86 297.39,255.53 297.77,255.26 298.13,255.05 298.48,254.86 298.85,254.74 299.29,254.75 299.83,254.94 300.44,255.28 301.07,255.65 301.66,255.92 302.18,256.09 302.67,256.21 303.15,256.27 303.64,256.23 304.16,256.01 304.70,255.65 305.22,255.32 305.72,255.18 306.18,255.38 306.61,255.79 307.03,256.20 307.47,256.42 307.92,256.32 308.37,256.03 308.84,255.73 309.34,255.61 309.91,255.78 310.52,256.11 311.12,256.45 311.64,256.64 312.05,256.58 312.38,256.36 312.71,256.15 313.09,256.10 313.57,256.31 314.11,256.68 314.65,257.04 315.15,257.24 315.58,257.17 315.98,256.93 316.38,256.68 316.82,256.59 317.34,256.74 317.90,257.04 318.47,257.34 319.00,257.50 319.47,257.41 319.92,257.17 320.35,256.93 320.79,256.86 321.24,257.07 321.68,257.46 322.12,257.83 322.59,258.00 323.10,257.86 323.64,257.51 324.16,257.16 324.63,256.98 325.05,257.08 325.44,257.33 325.77,257.61 326.00,257.80" fill="none" stroke="#8f3498" stroke-width="1.15" stroke-linejoin="round" />
<polyline points="268.70,272.08 269.11,272.15 269.70,272.25 270.36,272.33 270.98,272.32 271.56,272.14 272.15,271.86 272.72,271.58 273.23,271.42 273.67,271.47 274.04,271.66 274.41,271.82 274.83,271.81 275.33,271.56 275.88,271.17 276.44,270.71 277.02,270.23 277.63,269.69 278.26,269.08 278.89,268.52 279.46,268.15 279.95,268.08 280.38,268.22 280.80,268.38 281.24,268.37 281.71,268.07 282.19,267.61 282.67,267.14 283.13,266.85 283.58,266.82 284.01,266.94 284.43,267.08 284.84,267.12 285.22,266.95 285.56,266.67 285.93,266.42 286.36,266.36 286.90,266.60 287.50,267.06 288.13,267.51 288.76,267.76 289.40,267.73 290.06,267.53 290.70,267.25 291.27,267.00 291.72,266.77 292.11,266.53 292.48,266.28 292.91,266.03 293.42,265.73 293.97,265.41 294.55,265.13 295.11,264.97 295.66,264.99 296.22,265.15 296.77,265.33 297.27,265.40 297.70,265.35 298.09,265.22 298.47,265.05 298.88,264.88 299.32,264.69 299.78,264.46 300.25,264.26 300.74,264.16 301.27,264.23 301.84,264.42 302.39,264.61 302.89,264.70 303.29,264.60 303.63,264.40 303.96,264.19 304.30,264.07 304.65,264.06 304.99,264.10 305.36,264.21 305.78,264.38 306.27,264.67 306.81,265.06 307.38,265.43 307.94,265.66 308.50,265.64 309.07,265.47 309.64,265.30 310.20,265.29 310.76,265.54 311.31,265.96 311.87,266.38 312.44,266.61 313.03,266.56 313.64,266.35 314.25,266.11 314.84,265.98 315.42,266.00 315.98,266.10 316.54,266.24 317.13,266.39 317.75,266.55 318.40,266.74 319.03,266.93 319.63,267.13 320.15,267.37 320.62,267.64 321.08,267.87 321.57,268.00 322.09,267.97 322.63,267.81 323.17,267.67 323.68,267.69 324.17,267.97 324.66,268.41 325.10,268.86 325.44,269.14 325.68,269.17 325.83,269.06 325.93,268.90 326.00,268.80" fill="none" stroke="#a23d92" stroke-width="1.15" stroke-linejoin="round" />
<polyline points="268.70,280.43 269.12,280.30 269.73,280.10 270.41,279.91 271.05,279.82 271.64,279.86 272.24,279.99 272.83,280.15 273.37,280.28 273.85,280.44 274.29,280.62 274.72,280.73 275.19,280.67 275.72,280.34 276.28,279.81 276.84,279.25 277.38,278.79 277.87,278.49 278.32,278.28 278.79,278.07 279.30,277.82 279.87,277.47 280.48,277.06 281.12,276.67 281.75,276.35 282.40,276.08 283.05,275.84 283.70,275.69 284.34,275.67 284.95,275.88 285.53,276.25 286.12,276.64 286.72,276.86 287.36,276.82 288.03,276.63 288.67,276.42 289.23,276.37 289.67,276.60 290.01,277.01 290.35,277.35 290.77,277.40 291.33,276.99 291.96,276.27 292.61,275.51 293.23,274.99 293.82,274.84 294.40,274.90 294.97,274.99 295.51,274.91 296.03,274.55 296.51,274.04 297.00,273.55 297.52,273.26 298.09,273.30 298.68,273.54 299.29,273.80 299.91,273.91 300.55,273.74 301.20,273.41 301.85,273.10 302.47,272.97 303.06,273.11 303.64,273.41 304.19,273.76 304.70,274.02 305.18,274.15 305.62,274.23 306.04,274.29 306.45,274.36 306.83,274.48 307.18,274.61 307.54,274.72 307.99,274.74 308.56,274.62 309.21,274.39 309.87,274.18 310.43,274.08 310.83,274.16 311.14,274.36 311.44,274.58 311.84,274.76 312.39,274.84 313.03,274.88 313.69,274.94 314.29,275.06 314.80,275.31 315.27,275.65 315.74,275.96 316.23,276.16 316.77,276.15 317.33,276.01 317.89,275.88 318.42,275.88 318.90,276.12 319.36,276.52 319.80,276.89 320.24,277.06 320.68,276.90 321.11,276.52 321.53,276.15 321.93,276.02 322.31,276.26 322.66,276.74 323.03,277.23 323.43,277.53 323.93,277.53 324.49,277.37 325.01,277.17 325.42,277.07 325.68,277.10 325.84,277.20 325.93,277.32 326.00,277.40" fill="none" stroke="#b64a84" stroke-width="1.15" stroke-linejoin="round" />
<polyline points="268.70,286.04 268.95,285.81 269.32,285.47 269.73,285.18 270.12,285.10 270.48,285.37 270.84,285.87 271.21,286.36 271.59,286.60 271.98,286.44 272.37,286.04 272.78,285.62 273.21,285.39 273.67,285.51 274.14,285.82 274.64,286.11 275.15,286.16 275.72,285.84 276.33,285.28 276.92,284.69 277.45,284.28 277.89,284.15 278.28,284.18 278.65,284.23 279.02,284.18 279.39,283.97 279.76,283.67 280.13,283.36 280.50,283.14 280.88,283.02 281.26,282.96 281.67,282.95 282.12,283.01 282.64,283.17 283.22,283.42 283.82,283.68 284.40,283.92 284.98,284.13 285.56,284.34 286.14,284.50 286.70,284.58 287.26,284.52 287.81,284.35 288.34,284.17 288.83,284.06 289.26,284.07 289.65,284.14 290.02,284.22 290.41,284.24 290.83,284.17 291.26,284.05 291.68,283.93 292.11,283.85 292.53,283.86 292.94,283.94 293.36,283.98 293.76,283.92 294.14,283.64 294.50,283.23 294.88,282.83 295.32,282.62 295.86,282.70 296.46,282.97 297.07,283.23 297.64,283.32 298.16,283.09 298.65,282.67 299.13,282.25 299.58,282.02 300.01,282.10 300.41,282.35 300.82,282.61 301.27,282.70 301.80,282.49 302.38,282.10 302.96,281.73 303.47,281.55 303.90,281.70 304.27,282.04 304.63,282.41 305.04,282.63 305.52,282.64 306.03,282.53 306.56,282.40 307.09,282.34 307.59,282.43 308.09,282.59 308.60,282.73 309.13,282.75 309.70,282.57 310.29,282.26 310.88,281.97 311.41,281.85 311.87,282.04 312.28,282.42 312.67,282.80 313.07,283.00 313.44,282.93 313.79,282.70 314.16,282.44 314.60,282.26 315.13,282.21 315.73,282.20 316.35,282.24 316.95,282.30 317.53,282.39 318.13,282.51 318.70,282.65 319.23,282.81 319.70,283.01 320.12,283.24 320.53,283.46 320.96,283.58 321.44,283.58 321.95,283.48 322.45,283.37 322.92,283.32 323.33,283.36 323.71,283.44 324.07,283.55 324.45,283.66 324.87,283.80 325.32,283.95 325.72,284.10 326.00,284.20" fill="none" stroke="#ca6878" stroke-width="1.15" stroke-linejoin="round" />
<polyline points="268.70,291.48 269.18,291.21 269.87,290.81 270.62,290.43 271.27,290.20 271.75,290.21 272.17,290.37 272.58,290.55 273.04,290.60 273.58,290.44 274.16,290.15 274.76,289.88 275.34,289.75 275.92,289.86 276.50,290.11 277.07,290.37 277.59,290.47 278.05,290.34 278.47,290.07 278.89,289.77 279.37,289.56 279.96,289.44 280.62,289.37 281.28,289.35 281.88,289.40 282.38,289.57 282.83,289.83 283.27,290.10 283.72,290.30 284.22,290.42 284.73,290.50 285.23,290.54 285.71,290.53 286.16,290.43 286.58,290.25 286.99,290.09 287.41,290.06 287.83,290.23 288.24,290.54 288.66,290.84 289.09,290.98 289.51,290.87 289.92,290.59 290.35,290.30 290.84,290.15 291.40,290.22 292.01,290.41 292.64,290.61 293.25,290.69 293.83,290.60 294.41,290.39 294.97,290.17 295.52,290.00 296.05,289.95 296.55,289.96 297.06,289.95 297.60,289.84 298.20,289.55 298.84,289.13 299.48,288.76 300.09,288.58 300.67,288.73 301.23,289.09 301.77,289.46 302.30,289.62 302.81,289.44 303.31,289.06 303.80,288.67 304.30,288.48 304.80,288.61 305.29,288.92 305.80,289.24 306.31,289.40 306.84,289.29 307.39,289.01 307.93,288.74 308.45,288.64 308.92,288.79 309.36,289.10 309.81,289.44 310.31,289.68 310.91,289.79 311.57,289.84 312.24,289.86 312.84,289.87 313.35,289.89 313.80,289.90 314.24,289.88 314.72,289.82 315.23,289.64 315.75,289.39 316.30,289.17 316.86,289.09 317.45,289.25 318.05,289.58 318.67,289.90 319.29,290.04 319.91,289.87 320.54,289.51 321.17,289.16 321.79,289.04 322.44,289.29 323.09,289.75 323.72,290.24 324.29,290.52 324.82,290.52 325.30,290.35 325.71,290.14 326.00,290.00" fill="none" stroke="#dc9268" stroke-width="1.15" stroke-linejoin="round" />
<polyline points="268.70,302.21 269.16,302.04 269.83,301.79 270.54,301.54 271.16,301.37 271.62,301.29 272.02,301.27 272.40,301.29 272.79,301.35 273.20,301.48 273.61,301.67 274.02,301.86 274.43,301.98 274.84,302.02 275.26,302.03 275.66,301.98 276.06,301.86 276.44,301.61 276.81,301.26 277.18,300.93 277.58,300.77 278.02,300.85 278.48,301.10 278.96,301.37 279.45,301.50 279.97,301.41 280.51,301.20 281.06,300.98 281.63,300.90 282.21,301.05 282.81,301.33 283.42,301.61 284.01,301.74 284.60,301.61 285.19,301.33 285.75,301.07 286.27,301.00 286.71,301.28 287.07,301.77 287.45,302.25 287.92,302.49 288.50,302.38 289.16,302.05 289.84,301.68 290.50,301.42 291.14,301.31 291.78,301.26 292.41,301.28 292.98,301.38 293.49,301.62 293.96,301.97 294.41,302.31 294.87,302.52 295.34,302.55 295.80,302.48 296.28,302.34 296.80,302.19 297.36,301.98 297.96,301.73 298.56,301.49 299.14,301.36 299.67,301.38 300.17,301.49 300.67,301.64 301.20,301.78 301.77,301.93 302.38,302.10 302.98,302.25 303.55,302.33 304.08,302.30 304.58,302.18 305.08,302.07 305.59,302.03 306.12,302.12 306.68,302.29 307.22,302.46 307.72,302.54 308.17,302.50 308.57,302.40 308.98,302.26 309.43,302.14 309.94,302.03 310.50,301.91 311.06,301.81 311.60,301.79 312.09,301.90 312.56,302.10 313.03,302.29 313.54,302.35 314.09,302.22 314.68,301.96 315.27,301.68 315.81,301.48 316.32,301.42 316.79,301.41 317.24,301.43 317.68,301.42 318.09,301.38 318.47,301.32 318.86,301.26 319.29,301.21 319.77,301.18 320.28,301.17 320.82,301.15 321.39,301.13 321.99,301.08 322.64,301.03 323.28,300.98 323.89,300.96 324.49,300.98 325.10,301.02 325.63,301.07 326.00,301.10" fill="none" stroke="#d4c258" stroke-width="1.15" stroke-linejoin="round" />
<polyline points="268.70,308.60 269.06,308.44 269.57,308.21 270.16,307.99 270.76,307.87 271.36,307.92 272.01,308.07 272.67,308.21 273.30,308.22 273.90,308.01 274.49,307.67 275.07,307.33 275.65,307.13 276.25,307.16 276.85,307.33 277.45,307.52 278.06,307.58 278.69,307.45 279.35,307.21 279.97,306.97 280.52,306.88 280.94,306.97 281.27,307.19 281.60,307.45 282.00,307.67 282.51,307.83 283.09,307.98 283.69,308.12 284.27,308.26 284.84,308.44 285.41,308.65 285.98,308.82 286.54,308.88 287.11,308.75 287.68,308.49 288.24,308.24 288.74,308.11 289.17,308.21 289.55,308.43 289.92,308.66 290.32,308.77 290.76,308.68 291.20,308.48 291.68,308.28 292.20,308.21 292.80,308.35 293.46,308.64 294.14,308.90 294.78,308.97 295.38,308.77 295.96,308.38 296.54,307.96 297.12,307.66 297.72,307.53 298.32,307.49 298.91,307.49 299.48,307.49 299.98,307.46 300.45,307.43 300.91,307.44 301.43,307.53 302.04,307.78 302.69,308.14 303.35,308.47 303.95,308.61 304.49,308.44 304.98,308.06 305.46,307.68 305.93,307.50 306.39,307.65 306.84,307.98 307.29,308.32 307.76,308.49 308.25,308.40 308.75,308.14 309.26,307.86 309.75,307.68 310.22,307.65 310.68,307.68 311.15,307.75 311.65,307.79 312.23,307.79 312.85,307.78 313.47,307.77 314.03,307.80 314.52,307.89 314.98,308.02 315.41,308.14 315.84,308.20 316.26,308.13 316.66,307.99 317.08,307.87 317.55,307.89 318.13,308.16 318.77,308.60 319.41,309.02 319.98,309.21 320.41,309.07 320.77,308.71 321.13,308.32 321.56,308.07 322.11,308.03 322.73,308.10 323.37,308.21 323.96,308.33 324.54,308.44 325.13,308.58 325.64,308.71 326.00,308.80" fill="none" stroke="#e0da7a" stroke-width="1.15" stroke-linejoin="round" />
<line x1="299.50" y1="218.50" x2="299.50" y2="310.00" stroke="#111" stroke-width="1.2" stroke-dasharray="5,5.5"/>
<rect x="268.50" y="185.50" width="58.00" height="139.00" fill="none" stroke="#262626" stroke-width="1.25"/>
<line x1="270.58" y1="324.20" x2="270.58" y2="325.80" stroke="#262626" stroke-width="0.9" />
<line x1="280.95" y1="324.20" x2="280.95" y2="327.00" stroke="#262626" stroke-width="0.9" />
<text x="280.95" y="335.80" font-size="8.8" text-anchor="middle" font-weight="bold" fill="#111" color="#111" >1250</text>
<line x1="291.33" y1="324.20" x2="291.33" y2="325.80" stroke="#262626" stroke-width="0.9" />
<line x1="301.71" y1="324.20" x2="301.71" y2="327.00" stroke="#262626" stroke-width="0.9" />
<text x="301.71" y="335.80" font-size="8.8" text-anchor="middle" font-weight="bold" fill="#111" color="#111" >1200</text>
<line x1="312.09" y1="324.20" x2="312.09" y2="325.80" stroke="#262626" stroke-width="0.9" />
<line x1="322.46" y1="324.20" x2="322.46" y2="327.00" stroke="#262626" stroke-width="0.9" />
<text x="322.46" y="335.80" font-size="8.8" text-anchor="middle" font-weight="bold" fill="#111" color="#111" >1150</text>
<text x="297.35" y="347.00" font-size="9.0" text-anchor="middle" font-weight="bold" fill="#111" color="#111" >Wavenumber (cm<tspan dy="-3.6" font-size="6.2">-1</tspan><tspan dy="3.6">)</tspan></text>
<text x="263.80" y="254.30" font-size="9.0" text-anchor="middle" font-weight="bold" fill="#111" color="#111" transform="rotate(-90 263.80 254.30)" >Absorption (a.u.)</text>
<text x="237.30" y="188.70" font-size="19" text-anchor="start" font-weight="normal" fill="#111" color="#111" >e</text>
<text x="270.00" y="195.60" font-size="8.9" text-anchor="start" font-weight="bold" fill="#111" color="#111" >Nafion</text>
<text x="272.40" y="212.20" font-size="8.9" text-anchor="start" font-weight="bold" fill="#111" color="#111" >-SO<tspan dy="2.2" font-size="6.2">3</tspan><tspan dy="-4.0" font-size="7.5">*</tspan></text>
<text x="300.00" y="218.40" font-size="8.9" text-anchor="start" font-weight="bold" fill="#111" color="#111" >*OOH</text>
<line x1="357.8" y1="243" x2="357.8" y2="298.2" stroke="#aaaaaa" stroke-width="1.7"/>
<polygon points="354.6,243.4 361.2,243.4 357.9,236.9" fill="#111"/>
<text x="357.60" y="231.20" font-size="9.3" text-anchor="middle" font-weight="bold" fill="#7b2c98" color="#7b2c98" >2.01 V</text>
<text x="357.60" y="310.80" font-size="9.3" text-anchor="middle" font-weight="bold" fill="#d5d178" color="#d5d178" >1.11 V</text>
<polyline points="397.20,222.93 397.62,223.02 398.22,223.13 398.87,223.27 399.45,223.43 399.92,223.62 400.35,223.84 400.76,224.04 401.17,224.17 401.57,224.19 401.96,224.14 402.35,224.08 402.77,224.05 403.24,224.12 403.74,224.25 404.24,224.34 404.72,224.29 405.18,224.01 405.63,223.59 406.06,223.16 406.48,222.88 406.87,222.82 407.23,222.91 407.60,223.00 408.00,222.96 408.48,222.76 408.99,222.46 409.51,222.11 409.99,221.76 410.39,221.44 410.74,221.12 411.11,220.76 411.56,220.33 412.13,219.74 412.78,219.05 413.42,218.39 413.99,217.89 414.42,217.65 414.76,217.57 415.10,217.52 415.52,217.35 416.06,217.02 416.66,216.61 417.28,216.15 417.87,215.65 418.40,215.13 418.91,214.57 419.41,213.98 419.92,213.37 420.43,212.67 420.93,211.92 421.45,211.21 422.01,210.66 422.64,210.33 423.33,210.15 424.00,210.04 424.60,209.94 425.08,209.84 425.49,209.77 425.89,209.72 426.34,209.68 426.88,209.68 427.47,209.70 428.06,209.69 428.60,209.62 429.08,209.38 429.52,209.03 429.96,208.73 430.44,208.63 430.99,208.88 431.59,209.35 432.18,209.83 432.69,210.14 433.09,210.14 433.40,209.96 433.71,209.79 434.10,209.80 434.61,210.09 435.19,210.55 435.78,211.03 436.31,211.41 436.72,211.58 437.07,211.64 437.42,211.73 437.85,211.98 438.39,212.53 439.00,213.26 439.62,213.97 440.16,214.46 440.57,214.65 440.90,214.64 441.24,214.55 441.68,214.51 442.25,214.51 442.90,214.50 443.59,214.51 444.26,214.61 444.91,214.83 445.58,215.16 446.22,215.47 446.83,215.67 447.36,215.68 447.83,215.57 448.31,215.44 448.84,215.41 449.45,215.51 450.12,215.68 450.78,215.89 451.34,216.08 451.77,216.29 452.13,216.51 452.45,216.72 452.79,216.88 453.20,216.98 453.63,217.04 454.03,217.07 454.30,217.10" fill="none" stroke="#6a248e" stroke-width="1.15" stroke-linejoin="round" />
<polyline points="397.20,231.78 397.43,231.69 397.76,231.55 398.16,231.44 398.60,231.44 399.11,231.63 399.69,231.96 400.28,232.26 400.84,232.39 401.35,232.24 401.85,231.90 402.33,231.56 402.78,231.40 403.19,231.54 403.56,231.88 403.93,232.19 404.35,232.30 404.83,232.10 405.36,231.72 405.90,231.27 406.39,230.91 406.82,230.65 407.22,230.44 407.61,230.23 408.02,230.02 408.43,229.78 408.84,229.54 409.27,229.29 409.74,229.03 410.27,228.79 410.85,228.55 411.42,228.29 411.93,227.99 412.34,227.59 412.69,227.12 413.03,226.67 413.43,226.35 413.90,226.24 414.41,226.26 414.94,226.29 415.47,226.18 416.02,225.87 416.58,225.44 417.14,224.99 417.69,224.58 418.22,224.27 418.73,224.01 419.25,223.73 419.79,223.37 420.39,222.86 421.01,222.26 421.64,221.68 422.25,221.25 422.85,221.06 423.44,221.02 424.01,221.00 424.50,220.91 424.89,220.64 425.19,220.29 425.51,219.97 425.92,219.82 426.49,219.91 427.15,220.16 427.83,220.44 428.46,220.61 429.02,220.57 429.56,220.42 430.07,220.28 430.57,220.27 431.03,220.47 431.46,220.79 431.90,221.12 432.38,221.36 432.93,221.43 433.53,221.42 434.13,221.40 434.71,221.42 435.25,221.53 435.78,221.68 436.29,221.84 436.79,221.98 437.26,222.08 437.70,222.16 438.15,222.26 438.64,222.38 439.19,222.53 439.78,222.69 440.39,222.89 440.98,223.17 441.56,223.59 442.16,224.12 442.73,224.63 443.25,224.99 443.69,225.23 444.07,225.39 444.46,225.40 444.91,225.18 445.48,224.49 446.12,223.43 446.77,222.50 447.36,222.16 447.88,222.72 448.36,223.86 448.81,225.15 449.25,226.14 449.67,226.71 450.05,227.10 450.44,227.40 450.85,227.67 451.29,227.96 451.76,228.21 452.22,228.40 452.65,228.52 453.06,228.52 453.46,228.43 453.81,228.32 454.07,228.26 454.22,228.29 454.28,228.37 454.29,228.45 454.30,228.50" fill="none" stroke="#742893" stroke-width="1.15" stroke-linejoin="round" />
<polyline points="397.20,241.57 397.52,241.38 397.99,241.10 398.53,240.84 399.09,240.71 399.71,240.76 400.40,240.93 401.08,241.12 401.65,241.24 402.08,241.27 402.41,241.25 402.72,241.20 403.10,241.13 403.56,241.09 404.06,241.05 404.58,240.95 405.09,240.74 405.61,240.32 406.13,239.75 406.64,239.19 407.12,238.83 407.52,238.78 407.88,238.93 408.25,239.08 408.67,239.07 409.20,238.80 409.79,238.38 410.38,237.94 410.92,237.58 411.39,237.36 411.81,237.22 412.21,237.08 412.63,236.86 413.04,236.55 413.44,236.17 413.87,235.77 414.35,235.38 414.93,234.97 415.57,234.54 416.22,234.14 416.80,233.83 417.28,233.64 417.71,233.53 418.11,233.45 418.51,233.34 418.89,233.19 419.24,233.02 419.62,232.84 420.06,232.64 420.60,232.41 421.22,232.15 421.84,231.88 422.41,231.64 422.89,231.42 423.33,231.22 423.75,231.03 424.18,230.87 424.62,230.73 425.06,230.60 425.49,230.51 425.93,230.47 426.36,230.50 426.78,230.59 427.20,230.69 427.62,230.78 428.02,230.83 428.41,230.87 428.81,230.92 429.25,230.99 429.74,231.10 430.27,231.24 430.81,231.38 431.34,231.53 431.85,231.68 432.34,231.84 432.85,232.00 433.41,232.17 434.01,232.33 434.66,232.50 435.32,232.66 435.97,232.82 436.61,232.95 437.25,233.06 437.88,233.21 438.52,233.45 439.19,233.88 439.87,234.43 440.52,234.96 441.10,235.31 441.54,235.36 441.90,235.21 442.26,235.07 442.70,235.11 443.27,235.46 443.92,235.99 444.59,236.53 445.25,236.89 445.90,237.02 446.55,237.03 447.18,236.93 447.78,236.72 448.34,236.28 448.88,235.65 449.39,235.09 449.85,234.88 450.24,235.14 450.56,235.72 450.89,236.45 451.27,237.17 451.74,237.90 452.27,238.71 452.79,239.50 453.23,240.18 453.58,240.77 453.89,241.28 454.13,241.70 454.30,242.00" fill="none" stroke="#7e2c96" stroke-width="1.15" stroke-linejoin="round" />
<polyline points="397.20,249.79 397.58,249.57 398.13,249.25 398.74,248.93 399.32,248.73 399.85,248.75 400.37,248.91 400.89,249.04 401.43,248.98 402.01,248.62 402.61,248.07 403.18,247.49 403.70,247.05 404.12,246.80 404.47,246.66 404.82,246.55 405.22,246.39 405.70,246.15 406.24,245.87 406.78,245.60 407.29,245.36 407.72,245.19 408.13,245.06 408.54,244.93 409.00,244.80 409.54,244.68 410.12,244.57 410.72,244.43 411.30,244.20 411.86,243.84 412.41,243.37 412.94,242.89 413.41,242.49 413.80,242.16 414.12,241.87 414.45,241.64 414.83,241.47 415.33,241.43 415.89,241.49 416.45,241.52 416.95,241.42 417.36,241.06 417.72,240.55 418.06,240.05 418.43,239.70 418.85,239.60 419.28,239.64 419.73,239.72 420.17,239.75 420.60,239.71 421.03,239.65 421.48,239.57 421.96,239.45 422.52,239.26 423.12,239.01 423.72,238.79 424.25,238.67 424.67,238.71 425.03,238.86 425.38,239.03 425.74,239.13 426.13,239.13 426.52,239.07 426.94,239.02 427.40,239.02 427.95,239.12 428.57,239.26 429.19,239.43 429.73,239.56 430.18,239.66 430.55,239.76 430.93,239.82 431.35,239.85 431.85,239.78 432.38,239.62 432.94,239.52 433.52,239.57 434.13,239.92 434.77,240.46 435.42,240.98 436.06,241.28 436.69,241.20 437.33,240.89 437.95,240.58 438.56,240.50 439.13,240.79 439.68,241.29 440.23,241.82 440.79,242.16 441.39,242.21 442.01,242.09 442.62,241.96 443.20,241.97 443.71,242.19 444.19,242.53 444.65,242.89 445.13,243.20 445.61,243.37 446.09,243.48 446.58,243.63 447.11,243.92 447.69,244.45 448.31,245.14 448.92,245.82 449.46,246.32 449.90,246.53 450.27,246.55 450.64,246.55 451.06,246.68 451.60,247.01 452.20,247.44 452.78,247.90 453.27,248.32 453.63,248.69 453.92,249.06 454.14,249.38 454.30,249.60" fill="none" stroke="#8f3498" stroke-width="1.15" stroke-linejoin="round" />
<polyline points="397.70,264.04 398.08,264.18 398.64,264.38 399.25,264.59 399.80,264.75 400.25,264.81 400.67,264.81 401.10,264.82 401.60,264.93 402.19,265.18 402.85,265.53 403.53,265.88 404.16,266.18 404.73,266.42 405.28,266.64 405.81,266.80 406.37,266.84 406.97,266.73 407.59,266.50 408.20,266.22 408.76,265.94 409.24,265.66 409.67,265.36 410.09,265.05 410.51,264.77 410.94,264.53 411.36,264.32 411.79,264.10 412.28,263.82 412.83,263.43 413.44,262.97 414.06,262.53 414.65,262.24 415.16,262.17 415.65,262.25 416.14,262.33 416.67,262.25 417.28,261.96 417.95,261.55 418.61,261.06 419.21,260.55 419.72,259.96 420.19,259.31 420.63,258.66 421.09,258.11 421.57,257.70 422.05,257.36 422.53,257.06 423.02,256.76 423.50,256.45 423.97,256.15 424.46,255.88 424.97,255.63 425.53,255.41 426.13,255.20 426.73,255.05 427.31,254.96 427.86,254.95 428.40,254.99 428.94,255.11 429.52,255.33 430.15,255.71 430.83,256.21 431.49,256.73 432.09,257.17 432.58,257.46 433.01,257.66 433.44,257.87 433.92,258.17 434.52,258.64 435.17,259.20 435.82,259.75 436.38,260.16 436.81,260.35 437.14,260.39 437.47,260.42 437.86,260.56 438.34,260.91 438.86,261.38 439.40,261.81 439.96,262.04 440.51,261.93 441.08,261.61 441.66,261.27 442.23,261.13 442.78,261.31 443.32,261.67 443.88,262.03 444.45,262.22 445.07,262.11 445.71,261.82 446.36,261.53 447.01,261.43 447.67,261.63 448.35,262.02 449.00,262.40 449.61,262.62 450.15,262.55 450.65,262.32 451.13,262.08 451.65,262.00 452.26,262.14 452.93,262.43 453.53,262.73 453.97,262.92 454.16,262.94 454.18,262.87 454.13,262.77 454.10,262.70" fill="none" stroke="#a23d92" stroke-width="1.15" stroke-linejoin="round" />
<polyline points="397.70,279.28 398.08,279.23 398.62,279.15 399.21,279.12 399.74,279.23 400.19,279.56 400.61,280.06 401.02,280.58 401.41,280.95 401.78,281.16 402.12,281.28 402.48,281.33 402.93,281.33 403.50,281.26 404.15,281.11 404.83,280.95 405.50,280.86 406.17,280.87 406.85,280.92 407.50,281.01 408.06,281.08 408.48,281.17 408.81,281.29 409.11,281.37 409.46,281.39 409.86,281.31 410.28,281.16 410.73,280.98 411.19,280.81 411.70,280.68 412.23,280.57 412.78,280.42 413.32,280.16 413.86,279.70 414.40,279.10 414.95,278.51 415.53,278.08 416.16,277.92 416.84,277.92 417.51,277.93 418.12,277.76 418.65,277.34 419.11,276.77 419.57,276.17 420.10,275.67 420.70,275.30 421.35,275.00 422.02,274.75 422.68,274.50 423.34,274.23 424.01,273.97 424.65,273.76 425.21,273.66 425.65,273.72 426.00,273.90 426.35,274.09 426.79,274.20 427.36,274.17 428.01,274.05 428.69,273.94 429.33,273.92 429.95,274.04 430.56,274.24 431.15,274.47 431.70,274.70 432.18,274.90 432.62,275.10 433.04,275.32 433.51,275.55 434.02,275.85 434.56,276.19 435.12,276.49 435.69,276.68 436.26,276.68 436.85,276.54 437.44,276.41 438.01,276.43 438.56,276.72 439.09,277.18 439.60,277.63 440.11,277.92 440.61,277.95 441.11,277.82 441.59,277.68 442.07,277.67 442.54,277.86 443.00,278.16 443.46,278.49 443.92,278.78 444.39,279.03 444.86,279.27 445.33,279.47 445.77,279.58 446.16,279.55 446.50,279.42 446.87,279.28 447.33,279.24 447.93,279.32 448.63,279.47 449.32,279.68 449.91,279.95 450.34,280.35 450.67,280.86 450.97,281.35 451.31,281.68 451.72,281.77 452.15,281.70 452.57,281.61 452.95,281.61 453.30,281.76 453.63,282.00 453.90,282.24 454.10,282.40" fill="none" stroke="#b64a84" stroke-width="1.15" stroke-linejoin="round" />
<polyline points="397.70,292.74 398.10,292.52 398.68,292.20 399.34,291.89 399.98,291.72 400.62,291.76 401.28,291.93 401.94,292.13 402.55,292.27 403.09,292.32 403.58,292.34 404.07,292.33 404.58,292.29 405.14,292.21 405.72,292.10 406.30,291.97 406.87,291.81 407.42,291.59 407.96,291.32 408.50,291.08 409.05,290.95 409.59,291.02 410.13,291.22 410.69,291.41 411.27,291.46 411.90,291.25 412.57,290.90 413.22,290.56 413.79,290.38 414.23,290.49 414.57,290.76 414.91,291.04 415.31,291.19 415.83,291.14 416.42,290.97 417.00,290.78 417.51,290.63 417.89,290.57 418.20,290.54 418.51,290.52 418.93,290.46 419.52,290.33 420.22,290.17 420.92,290.01 421.52,289.89 421.95,289.86 422.28,289.88 422.60,289.89 423.00,289.84 423.52,289.63 424.10,289.34 424.68,289.09 425.21,289.02 425.66,289.24 426.05,289.65 426.43,290.08 426.81,290.34 427.20,290.36 427.57,290.24 427.96,290.10 428.36,290.05 428.79,290.16 429.24,290.35 429.70,290.54 430.14,290.64 430.54,290.58 430.92,290.44 431.33,290.28 431.81,290.19 432.41,290.15 433.10,290.15 433.79,290.19 434.38,290.29 434.83,290.45 435.19,290.68 435.53,290.94 435.92,291.22 436.36,291.56 436.83,291.94 437.33,292.30 437.86,292.56 438.42,292.62 439.03,292.55 439.65,292.50 440.27,292.58 440.90,292.88 441.54,293.30 442.18,293.76 442.79,294.16 443.39,294.46 443.97,294.73 444.54,294.99 445.09,295.29 445.63,295.69 446.15,296.13 446.66,296.55 447.19,296.83 447.73,296.91 448.28,296.85 448.83,296.77 449.36,296.77 449.87,296.95 450.36,297.21 450.84,297.45 451.31,297.57 451.76,297.46 452.21,297.21 452.63,296.96 453.00,296.86 453.35,296.98 453.66,297.23 453.92,297.51 454.10,297.70" fill="none" stroke="#ca6878" stroke-width="1.15" stroke-linejoin="round" />
<polyline points="397.70,298.62 398.14,298.55 398.77,298.44 399.48,298.33 400.12,298.25 400.69,298.21 401.23,298.20 401.77,298.19 402.33,298.12 402.94,297.95 403.58,297.73 404.20,297.51 404.75,297.39 405.21,297.42 405.61,297.53 405.98,297.66 406.37,297.74 406.78,297.76 407.19,297.75 407.60,297.71 408.01,297.63 408.39,297.50 408.76,297.31 409.14,297.11 409.59,296.93 410.12,296.75 410.72,296.55 411.33,296.41 411.94,296.38 412.52,296.57 413.10,296.90 413.68,297.21 414.25,297.34 414.81,297.16 415.37,296.81 415.91,296.43 416.43,296.20 416.92,296.22 417.37,296.38 417.82,296.54 418.27,296.57 418.73,296.38 419.19,296.06 419.65,295.75 420.11,295.59 420.56,295.66 420.99,295.88 421.45,296.12 421.96,296.25 422.53,296.20 423.17,296.07 423.81,295.91 424.44,295.80 425.04,295.79 425.64,295.83 426.21,295.86 426.74,295.81 427.23,295.63 427.67,295.36 428.10,295.09 428.52,294.92 428.94,294.88 429.34,294.90 429.75,294.97 430.16,295.04 430.57,295.07 430.98,295.11 431.42,295.19 431.90,295.36 432.45,295.72 433.06,296.21 433.68,296.66 434.26,296.90 434.78,296.77 435.26,296.41 435.74,296.05 436.25,295.95 436.78,296.22 437.33,296.73 437.90,297.29 438.47,297.75 439.09,298.04 439.74,298.26 440.37,298.45 440.91,298.65 441.33,298.89 441.66,299.13 441.98,299.35 442.34,299.53 442.77,299.62 443.22,299.66 443.70,299.70 444.20,299.79 444.72,299.95 445.25,300.15 445.81,300.37 446.37,300.59 446.97,300.86 447.60,301.15 448.21,301.42 448.77,301.58 449.26,301.61 449.70,301.57 450.12,301.45 450.53,301.29 450.93,301.02 451.32,300.66 451.70,300.32 452.11,300.10 452.60,300.05 453.14,300.10 453.63,300.20 453.98,300.29 454.14,300.37 454.16,300.46 454.12,300.54 454.10,300.60" fill="none" stroke="#dc9268" stroke-width="1.15" stroke-linejoin="round" />
<polyline points="397.70,304.00 397.95,303.78 398.30,303.45 398.72,303.16 399.17,303.04 399.64,303.22 400.16,303.61 400.70,303.98 401.25,304.13 401.80,303.90 402.37,303.45 402.93,302.98 403.46,302.73 403.94,302.82 404.40,303.12 404.83,303.43 405.27,303.56 405.72,303.40 406.17,303.08 406.61,302.75 407.03,302.60 407.43,302.73 407.80,303.03 408.19,303.34 408.62,303.49 409.11,303.39 409.65,303.14 410.21,302.87 410.75,302.72 411.28,302.77 411.79,302.93 412.31,303.09 412.82,303.10 413.31,302.89 413.79,302.53 414.29,302.18 414.80,302.00 415.36,302.11 415.96,302.40 416.54,302.69 417.06,302.78 417.49,302.55 417.86,302.12 418.22,301.69 418.65,301.46 419.16,301.54 419.72,301.81 420.29,302.08 420.85,302.14 421.39,301.86 421.94,301.37 422.47,300.90 422.94,300.65 423.33,300.79 423.66,301.16 423.99,301.55 424.38,301.73 424.88,301.59 425.45,301.26 426.02,300.92 426.55,300.76 427.00,300.86 427.41,301.12 427.81,301.41 428.24,301.59 428.70,301.63 429.18,301.60 429.66,301.53 430.15,301.45 430.65,301.33 431.15,301.16 431.66,301.02 432.19,300.97 432.75,301.06 433.34,301.24 433.91,301.46 434.45,301.66 434.93,301.87 435.37,302.09 435.81,302.28 436.27,302.42 436.77,302.44 437.30,302.38 437.83,302.33 438.31,302.39 438.74,302.59 439.12,302.90 439.50,303.22 439.92,303.46 440.37,303.58 440.83,303.63 441.32,303.67 441.86,303.75 442.46,303.89 443.13,304.06 443.80,304.22 444.44,304.33 445.04,304.36 445.62,304.35 446.19,304.31 446.78,304.25 447.40,304.19 448.04,304.11 448.66,304.01 449.20,303.86 449.64,303.56 449.99,303.14 450.34,302.84 450.73,302.86 451.20,303.38 451.72,304.24 452.24,305.18 452.71,305.97 453.13,306.56 453.53,307.08 453.86,307.50 454.10,307.80" fill="none" stroke="#d4c258" stroke-width="1.15" stroke-linejoin="round" />
<polyline points="397.70,310.05 398.18,310.06 398.88,310.07 399.63,310.10 400.26,310.17 400.71,310.31 401.07,310.49 401.43,310.67 401.88,310.79 402.47,310.83 403.14,310.80 403.82,310.76 404.39,310.74 404.84,310.76 405.20,310.81 405.53,310.84 405.87,310.82 406.22,310.67 406.55,310.45 406.90,310.25 407.31,310.17 407.81,310.28 408.38,310.52 408.96,310.76 409.49,310.86 409.94,310.77 410.36,310.56 410.77,310.31 411.23,310.12 411.74,309.99 412.30,309.87 412.85,309.81 413.35,309.84 413.77,310.03 414.13,310.34 414.48,310.65 414.88,310.86 415.31,310.94 415.76,310.94 416.24,310.89 416.75,310.80 417.30,310.64 417.89,310.41 418.48,310.20 419.02,310.11 419.47,310.20 419.87,310.40 420.28,310.63 420.75,310.76 421.32,310.76 421.96,310.70 422.61,310.61 423.22,310.55 423.78,310.52 424.32,310.51 424.82,310.48 425.29,310.41 425.69,310.25 426.03,310.02 426.37,309.81 426.74,309.73 427.15,309.85 427.59,310.10 428.05,310.35 428.52,310.48 429.02,310.41 429.55,310.22 430.08,310.02 430.59,309.93 431.06,310.04 431.51,310.26 431.98,310.46 432.48,310.55 433.06,310.42 433.69,310.16 434.32,309.89 434.88,309.76 435.34,309.83 435.74,310.03 436.13,310.23 436.53,310.34 436.96,310.29 437.39,310.14 437.82,309.99 438.25,309.95 438.68,310.05 439.10,310.24 439.54,310.44 440.00,310.57 440.49,310.58 441.00,310.54 441.54,310.47 442.10,310.43 442.73,310.42 443.41,310.42 444.08,310.42 444.67,310.38 445.14,310.30 445.53,310.19 445.91,310.07 446.32,309.96 446.78,309.84 447.26,309.70 447.75,309.59 448.25,309.55 448.74,309.58 449.25,309.66 449.76,309.78 450.28,309.92 450.81,310.12 451.36,310.38 451.90,310.61 452.40,310.72 452.90,310.67 453.38,310.51 453.80,310.32 454.10,310.20" fill="none" stroke="#e0da7a" stroke-width="1.15" stroke-linejoin="round" />
<line x1="427.50" y1="209.00" x2="427.50" y2="311.00" stroke="#111" stroke-width="1.2" stroke-dasharray="5,5.5"/>
<rect x="396.50" y="185.50" width="58.00" height="139.00" fill="none" stroke="#262626" stroke-width="1.25"/>
<line x1="398.98" y1="324.20" x2="398.98" y2="325.80" stroke="#262626" stroke-width="0.9" />
<line x1="409.35" y1="324.20" x2="409.35" y2="327.00" stroke="#262626" stroke-width="0.9" />
<text x="409.35" y="335.80" font-size="8.8" text-anchor="middle" font-weight="bold" fill="#111" color="#111" >1250</text>
<line x1="419.73" y1="324.20" x2="419.73" y2="325.80" stroke="#262626" stroke-width="0.9" />
<line x1="430.11" y1="324.20" x2="430.11" y2="327.00" stroke="#262626" stroke-width="0.9" />
<text x="430.11" y="335.80" font-size="8.8" text-anchor="middle" font-weight="bold" fill="#111" color="#111" >1200</text>
<line x1="440.49" y1="324.20" x2="440.49" y2="325.80" stroke="#262626" stroke-width="0.9" />
<line x1="450.86" y1="324.20" x2="450.86" y2="327.00" stroke="#262626" stroke-width="0.9" />
<text x="450.86" y="335.80" font-size="8.8" text-anchor="middle" font-weight="bold" fill="#111" color="#111" >1150</text>
<text x="425.75" y="347.00" font-size="9.0" text-anchor="middle" font-weight="bold" fill="#111" color="#111" >Wavenumber (cm<tspan dy="-3.6" font-size="6.2">-1</tspan><tspan dy="3.6">)</tspan></text>
<text x="392.20" y="254.30" font-size="9.0" text-anchor="middle" font-weight="bold" fill="#111" color="#111" transform="rotate(-90 392.20 254.30)" >Absorption (a.u.)</text>
<text x="373.00" y="188.60" font-size="19" text-anchor="start" font-weight="normal" fill="#111" color="#111" >f</text>
<text x="398.00" y="196.10" font-size="8.8" text-anchor="start" font-weight="bold" fill="#111" color="#111" >FOH-Nafion</text>
<text x="426.80" y="207.10" font-size="8.9" text-anchor="start" font-weight="bold" fill="#111" color="#111" >*OOH</text>
<rect x="498.50" y="186.50" width="184.00" height="138.00" fill="none" stroke="#262626" stroke-width="1.25"/>
<line x1="496.20" y1="324.40" x2="499.00" y2="324.40" stroke="#262626" stroke-width="0.9" />
<text x="494.60" y="327.40" font-size="8.8" text-anchor="end" font-weight="bold" fill="#111" color="#111" >0.6</text>
<line x1="497.40" y1="312.92" x2="499.00" y2="312.92" stroke="#262626" stroke-width="0.9" />
<line x1="496.20" y1="301.45" x2="499.00" y2="301.45" stroke="#262626" stroke-width="0.9" />
<text x="494.60" y="304.45" font-size="8.8" text-anchor="end" font-weight="bold" fill="#111" color="#111" >0.7</text>
<line x1="497.40" y1="289.97" x2="499.00" y2="289.97" stroke="#262626" stroke-width="0.9" />
<line x1="496.20" y1="278.50" x2="499.00" y2="278.50" stroke="#262626" stroke-width="0.9" />
<text x="494.60" y="281.50" font-size="8.8" text-anchor="end" font-weight="bold" fill="#111" color="#111" >0.8</text>
<line x1="497.40" y1="267.02" x2="499.00" y2="267.02" stroke="#262626" stroke-width="0.9" />
<line x1="496.20" y1="255.55" x2="499.00" y2="255.55" stroke="#262626" stroke-width="0.9" />
<text x="494.60" y="258.55" font-size="8.8" text-anchor="end" font-weight="bold" fill="#111" color="#111" >0.9</text>
<line x1="497.40" y1="244.07" x2="499.00" y2="244.07" stroke="#262626" stroke-width="0.9" />
<line x1="496.20" y1="232.60" x2="499.00" y2="232.60" stroke="#262626" stroke-width="0.9" />
<text x="494.60" y="235.60" font-size="8.8" text-anchor="end" font-weight="bold" fill="#111" color="#111" >1.0</text>
<line x1="497.40" y1="221.12" x2="499.00" y2="221.12" stroke="#262626" stroke-width="0.9" />
<line x1="496.20" y1="209.65" x2="499.00" y2="209.65" stroke="#262626" stroke-width="0.9" />
<text x="494.60" y="212.65" font-size="8.8" text-anchor="end" font-weight="bold" fill="#111" color="#111" >1.1</text>
<line x1="497.40" y1="198.18" x2="499.00" y2="198.18" stroke="#262626" stroke-width="0.9" />
<line x1="496.20" y1="186.70" x2="499.00" y2="186.70" stroke="#262626" stroke-width="0.9" />
<text x="494.60" y="189.70" font-size="8.8" text-anchor="end" font-weight="bold" fill="#111" color="#111" >1.2</text>
<line x1="499.00" y1="324.40" x2="499.00" y2="326.00" stroke="#262626" stroke-width="0.9" />
<line x1="514.32" y1="324.40" x2="514.32" y2="327.20" stroke="#262626" stroke-width="0.9" />
<text x="514.32" y="335.80" font-size="8.8" text-anchor="middle" font-weight="bold" fill="#111" color="#111" >1.5</text>
<line x1="529.63" y1="324.40" x2="529.63" y2="326.00" stroke="#262626" stroke-width="0.9" />
<line x1="544.95" y1="324.40" x2="544.95" y2="327.20" stroke="#262626" stroke-width="0.9" />
<text x="544.95" y="335.80" font-size="8.8" text-anchor="middle" font-weight="bold" fill="#111" color="#111" >1.6</text>
<line x1="560.27" y1="324.40" x2="560.27" y2="326.00" stroke="#262626" stroke-width="0.9" />
<line x1="575.58" y1="324.40" x2="575.58" y2="327.20" stroke="#262626" stroke-width="0.9" />
<text x="575.58" y="335.80" font-size="8.8" text-anchor="middle" font-weight="bold" fill="#111" color="#111" >1.7</text>
<line x1="590.90" y1="324.40" x2="590.90" y2="326.00" stroke="#262626" stroke-width="0.9" />
<line x1="606.22" y1="324.40" x2="606.22" y2="327.20" stroke="#262626" stroke-width="0.9" />
<text x="606.22" y="335.80" font-size="8.8" text-anchor="middle" font-weight="bold" fill="#111" color="#111" >1.8</text>
<line x1="621.53" y1="324.40" x2="621.53" y2="326.00" stroke="#262626" stroke-width="0.9" />
<line x1="636.85" y1="324.40" x2="636.85" y2="327.20" stroke="#262626" stroke-width="0.9" />
<text x="636.85" y="335.80" font-size="8.8" text-anchor="middle" font-weight="bold" fill="#111" color="#111" >1.9</text>
<line x1="652.17" y1="324.40" x2="652.17" y2="326.00" stroke="#262626" stroke-width="0.9" />
<line x1="667.48" y1="324.40" x2="667.48" y2="327.20" stroke="#262626" stroke-width="0.9" />
<text x="667.48" y="335.80" font-size="8.8" text-anchor="middle" font-weight="bold" fill="#111" color="#111" >2.0</text>
<line x1="682.80" y1="324.40" x2="682.80" y2="326.00" stroke="#262626" stroke-width="0.9" />
<text x="590.90" y="348.00" font-size="9.0" text-anchor="middle" font-weight="bold" fill="#111" color="#111" >E (V) vs. RHE</text>
<text x="477.40" y="255.40" font-size="9.2" text-anchor="middle" font-weight="bold" fill="#111" color="#111" transform="rotate(-90 477.40 255.40)" >I(-SO<tspan dy="2.2" font-size="6.4">3</tspan><tspan dy="-5.4" font-size="6.4">*</tspan><tspan dy="3.2">)/I(*OOH)</tspan></text>
<text x="464.30" y="188.00" font-size="19" text-anchor="start" font-weight="normal" fill="#111" color="#111" >g</text>
<polyline points="517.38,285.29 548.01,272.40 578.65,263.10 609.28,233.70 639.91,227.30 670.55,213.09" fill="none" stroke="#f2a8a4" stroke-width="1.0" stroke-linejoin="round" />
<rect x="515.78" y="283.69" width="3.2" height="3.2" fill="#ec8e8a"/>
<rect x="546.41" y="270.80" width="3.2" height="3.2" fill="#ec8e8a"/>
<rect x="577.05" y="261.50" width="3.2" height="3.2" fill="#ec8e8a"/>
<rect x="607.68" y="232.10" width="3.2" height="3.2" fill="#ec8e8a"/>
<rect x="638.31" y="225.70" width="3.2" height="3.2" fill="#ec8e8a"/>
<rect x="668.95" y="211.49" width="3.2" height="3.2" fill="#ec8e8a"/>
<line x1="505.90" y1="195.90" x2="525.60" y2="195.90" stroke="#f2a8a4" stroke-width="1.0" />
<rect x="514.1" y="194.2" width="3.4" height="3.4" fill="#ec8e8a"/>
<text x="528.80" y="199.00" font-size="8.8" text-anchor="start" font-weight="bold" fill="#111" color="#111" >Nafion/Co<tspan dy="2.2" font-size="6">3</tspan><tspan dy="-2.2">O</tspan><tspan dy="2.2" font-size="6">4</tspan></text>
</svg></body></html>
